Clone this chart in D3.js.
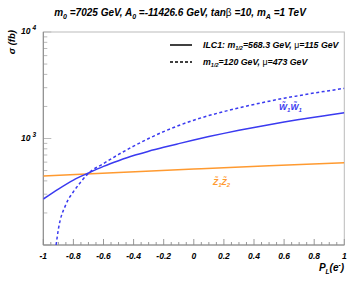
<!DOCTYPE html>
<html><head><meta charset="utf-8">
<script src="https://cdn.jsdelivr.net/npm/d3@7"></script>
<style>body{margin:0;background:#fff}svg text{font-family:"Liberation Sans",Arial,sans-serif;font-weight:bold;font-style:italic}</style>
</head><body><svg id="c" width="353" height="283"></svg>
<script>
const xSolid = [-1,-0.9,-0.8,-0.7,-0.6,-0.5,-0.4,-0.3,-0.2,-0.1,0,0.1,0.2,0.3,0.4,0.5,0.6,0.7,0.8,0.9,1];
const ySolid = [270,335,407,474,547,619,692,759,826,895,968,1042,1117,1194,1271,1349,1429,1507,1585,1663,1746];
const xDash = [-0.915,-0.9,-0.85,-0.8,-0.75,-0.7,-0.6,-0.5,-0.4,-0.3,-0.2,-0.1,0,0.1,0.2,0.3,0.4,0.5,0.6,0.7,0.8,0.9,1];
const yDash = [100,140,240,316,392,471,582,708,847,1000,1161,1324,1486,1641,1791,1941,2089,2239,2388,2529,2673,2812,2958];
const xOrange = [-1,-0.5,0,0.5,1];
const yOrange = [445,480,517,555,593];
const xTickLabels = ["-1","-0.8","-0.6","-0.4","-0.2","0","0.2","0.4","0.6","0.8","1"];
const yTickExps = [3,4];

const svg = d3.select("#c");
const L=43.3, R=344.3, T=32, B=245;
const x = d3.scaleLinear().domain([-1,1]).range([L,R]);
const y = d3.scaleLog().domain([100,10000]).range([B,T]);
const blue="#3a3af0", orange="#ff9a30", frame="#999";

svg.append("defs").append("clipPath").attr("id","cp").append("rect")
  .attr("x",L).attr("y",T).attr("width",R-L).attr("height",B-T);

// frame
svg.append("rect").attr("x",L).attr("y",T).attr("width",R-L).attr("height",B-T)
  .attr("fill","none").attr("stroke","#bbb").attr("stroke-width",1);

// x ticks
const g = svg.append("g");
d3.range(-1,1.0001,0.05).forEach((v,i)=>{
  const major = i%4===0;
  g.append("line").attr("x1",x(v)).attr("x2",x(v)).attr("y1",B).attr("y2",B-(major?6:3))
   .attr("stroke",frame);
});
// y ticks
[100,1000].forEach(dec=>{
  for(let k=1;k<=9;k++){
    const v=dec*k;
    const major = k===1;
    g.append("line").attr("x1",L).attr("x2",L+(major?8:4)).attr("y1",y(v)).attr("y2",y(v)).attr("stroke","#bbb");
  }
});
g.append("line").attr("x1",L).attr("x2",L+8).attr("y1",y(10000)).attr("y2",y(10000)).attr("stroke","#bbb");
svg.append("line").attr("x1",L).attr("x2",L).attr("y1",T).attr("y2",B).attr("stroke","#888");
svg.append("line").attr("x1",L).attr("x2",R).attr("y1",B).attr("y2",B).attr("stroke","#888");

// x tick labels
xTickLabels.forEach((t,i)=>{
  svg.append("text").attr("x",x(+t)).attr("y",259).attr("text-anchor","middle")
    .attr("font-size",8.5).attr("fill","#000").text(t);
});
// y tick labels
yTickExps.forEach(e=>{
  const t=svg.append("text").attr("x",36).attr("y",y(Math.pow(10,e))+2).attr("text-anchor","end")
    .attr("font-size",8.5).attr("fill","#000");
  t.append("tspan").text("10");
  t.append("tspan").attr("dx",2).attr("dy",-4).attr("font-size",6.5).text(e);
});

// axis titles
const xt=svg.append("text").attr("x",344).attr("y",271).attr("text-anchor","end").attr("font-size",10);
xt.append("tspan").text("P");
xt.append("tspan").attr("dy",2.5).attr("font-size",6.5).text("L");
xt.append("tspan").attr("dy",-2.5).text("(e");
xt.append("tspan").attr("dy",-4).attr("font-size",6.5).text("-");
xt.append("tspan").attr("dy",4).text(")");

svg.append("text").attr("transform","translate(15,30) rotate(-90)").attr("text-anchor","end")
  .attr("font-size",9.5).text("σ (fb)");

// title
const tt=svg.append("text").attr("x",180).attr("y",16).attr("text-anchor","middle").attr("font-size",10);
tt.append("tspan").text("m");
tt.append("tspan").attr("dy",2.5).attr("font-size",7).text("0");
tt.append("tspan").attr("dy",-2.5).text(" =7025 GeV, A");
tt.append("tspan").attr("dy",2.5).attr("font-size",7).text("0");
tt.append("tspan").attr("dy",-2.5).text(" =-11426.6 GeV, tan");
tt.append("tspan").attr("font-style","normal").attr("font-weight","normal").text("β");
tt.append("tspan").text(" =10, m");
tt.append("tspan").attr("dy",2.5).attr("font-size",7).text("A");
tt.append("tspan").attr("dy",-2.5).text(" =1 TeV");

// curves
const line = d3.line().x(d=>x(d[0])).y(d=>y(d[1])).curve(d3.curveMonotoneX);
const pg = svg.append("g").attr("clip-path","url(#cp)");
pg.append("path").datum(xOrange.map((v,i)=>[v,yOrange[i]])).attr("d",line)
  .attr("fill","none").attr("stroke",orange).attr("stroke-width",1.5);
pg.append("path").datum(xSolid.map((v,i)=>[v,ySolid[i]])).attr("d",line)
  .attr("fill","none").attr("stroke",blue).attr("stroke-width",1.5);
pg.append("path").datum(xDash.map((v,i)=>[v,yDash[i]])).attr("d",line)
  .attr("fill","none").attr("stroke",blue).attr("stroke-width",1.5).attr("stroke-dasharray","3,2.5");

// curve labels
const wl=svg.append("text").attr("x",279).attr("y",110).attr("font-size",8.5).attr("fill",blue);
wl.append("tspan").text("W̃");
wl.append("tspan").attr("dy",2).attr("font-size",6).text("1");
wl.append("tspan").attr("dy",-2).text("W̃");
wl.append("tspan").attr("dy",2).attr("font-size",6).text("1");
const zl=svg.append("text").attr("x",213).attr("y",185).attr("font-size",8.5).attr("fill",orange);
zl.append("tspan").text("Z̃");
zl.append("tspan").attr("dy",2).attr("font-size",6).text("1");
zl.append("tspan").attr("dy",-2).text("Z̃");
zl.append("tspan").attr("dy",2).attr("font-size",6).text("2");

// legend
svg.append("line").attr("x1",170).attr("x2",192).attr("y1",45).attr("y2",45).attr("stroke","#000").attr("stroke-width",1.5);
svg.append("line").attr("x1",170).attr("x2",192).attr("y1",62).attr("y2",62).attr("stroke","#000").attr("stroke-width",1.5).attr("stroke-dasharray","3,2");
function legText(yy, parts){
  const t=svg.append("text").attr("x",203).attr("y",yy).attr("font-size",8.8);
  parts.forEach(p=>{
    const s=t.append("tspan").text(p[0]);
    if(p[1]) s.attr("dy",p[1]);
    if(p[2]) s.attr("font-size",p[2]);
    if(p[3]) s.attr("font-style","normal").attr("font-weight","normal");
  });
}
legText(48,[["ILC1: m"],["1/2",2,5.5],["=568.3 GeV, ",-2],["μ",0,0,1],["=115 GeV"]]);
legText(65,[["m"],["1/2",2,5.5],["=120 GeV, ",-2],["μ",0,0,1],["=473 GeV"]]);
</script></body></html>
